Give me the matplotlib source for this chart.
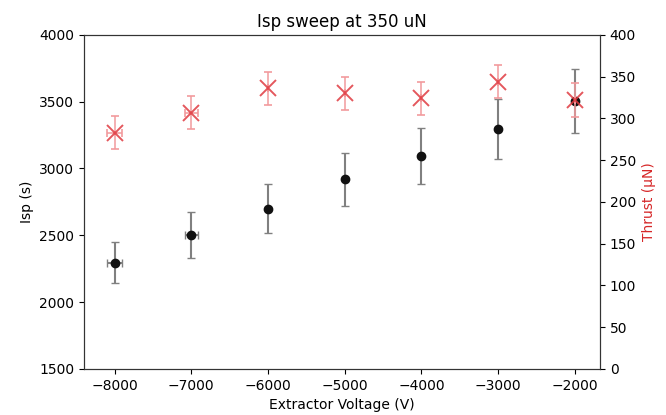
import numpy as np
import matplotlib.pyplot as plt

voltage = [-8000, -7000, -6000, -5000, -4000, -3000, -2000]
voltage_err = [100, 85, 0, 0, 0, 0, 0]
isp = [2295, 2500, 2700, 2920, 3095, 3295, 3505]
isp_err = [155, 172, 185, 197, 210, 225, 237]
thrust = [283, 307, 336, 330, 324, 344, 322]
thrust_err = [20, 20, 20, 20, 20, 20, 20]


def main():
    fig = plt.figure(figsize=(6.66, 4.15), dpi=100)
    ax = fig.add_axes([0.126, 0.111, 0.775, 0.805])
    ax2 = ax.twinx()

    ax.errorbar(
        voltage,
        isp,
        yerr=isp_err,
        xerr=voltage_err,
        fmt="o",
        color="#111111",
        ecolor="#808080",
        markersize=6,
        capsize=3,
        elinewidth=1.5,
        zorder=3,
    )
    ax2.errorbar(
        voltage,
        thrust,
        yerr=thrust_err,
        xerr=voltage_err,
        fmt="x",
        color="#e03a40",
        ecolor="#f29a9d",
        markersize=11,
        mew=1.4,
        capsize=3,
        elinewidth=1.3,
        alpha=0.85,
    )

    ax.set_xlim(-8400, -1670)
    ax.set_ylim(1500, 4000)
    ax2.set_ylim(0, 400)
    ax.set_xticks(voltage)
    ax.set_yticks(np.arange(1500, 4001, 500))
    ax2.set_yticks(np.arange(0, 401, 50))

    ax.set_xlabel("Extractor Voltage (V)")
    ax.set_ylabel("Isp (s)")
    ax2.set_ylabel("Thrust (\u03bcN)", color="#d62728")
    ax.set_title("Isp sweep at 350 uN")

    for a in (ax, ax2):
        for s in a.spines.values():
            s.set_color("#333333")

    fig.savefig("out.png", dpi=100)


if __name__ == "__main__":
    main()
